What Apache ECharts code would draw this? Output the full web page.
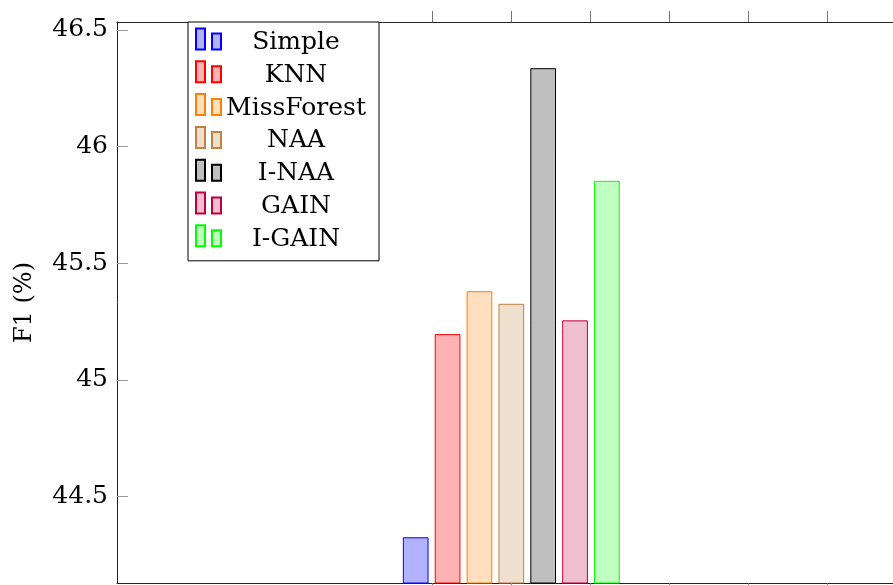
<!DOCTYPE html>
<html><head><meta charset="utf-8">
<script src="https://cdn.jsdelivr.net/npm/echarts@6/dist/echarts.min.js"></script>
<style>html,body{margin:0;padding:0;background:#fff}#c{width:893px;height:585px}</style>
</head><body><div id="c"></div>
<script>
const methods = ['Simple', 'KNN', 'MissForest', 'NAA', 'I-NAA', 'GAIN', 'I-GAIN'];
const f1Values = [44.325, 45.196, 45.380, 45.326, 46.336, 45.255, 45.853];
const groupX = 5;
const yTickValues = [44.5, 45, 45.5, 46, 46.5];
const xTickValues = [4, 5, 6, 7, 8, 9];
const fillColors = ['rgb(178,178,255)', 'rgb(255,178,178)', 'rgb(255,223,191)', 'rgb(239,223,207)', 'rgb(191,191,191)', 'rgb(239,191,207)', 'rgb(191,255,191)'];
const strokeColors = ['rgb(0,0,255)', 'rgb(255,0,0)', 'rgb(255,128,0)', 'rgb(191,128,64)', 'rgb(0,0,0)', 'rgb(191,0,64)', 'rgb(0,255,0)'];

const FONT = 'DejaVu Serif';
const chart = echarts.init(document.getElementById('c'), null, {renderer: 'canvas'});

const series = methods.map((m, i) => ({
  name: m,
  type: 'bar',
  xAxisIndex: 0,
  yAxisIndex: 0,
  clip: true,
  barWidth: 25.7,
  barGap: '24%',
  data: [[groupX, f1Values[i]]],
  itemStyle: {color: fillColors[i], borderColor: strokeColors[i], borderWidth: 1},
  emphasis: {disabled: true}
}));

const axisLineStyle = {color: '#222', width: 1};

chart.setOption({
  animation: false,
  backgroundColor: '#fff',
  grid: {left: 117, top: 22, right: 0, bottom: 2, containLabel: false},
  legend: {
    orient: 'vertical',
    left: 188,
    top: 22,
    data: methods,
    icon: 'path://M0,0h9v21h-9z M16,5h9v16h-9z',
    itemWidth: 25,
    itemHeight: 21,
    itemGap: 0.8,
    padding: [1, 13, 9, 7],
    borderColor: '#000',
    borderWidth: 1,
    backgroundColor: '#fff',
    selectedMode: false,
    formatter: n => '{t|' + n + '}',
    textStyle: {
      rich: {t: {width: 140, align: 'center', fontFamily: FONT, fontSize: 25, color: '#000', lineHeight: 24, padding: [7, 0, 0, 0]}}
    }
  },
  xAxis: [
    {
      type: 'value', position: 'bottom', min: 0, max: 9.84,
      axisLine: {show: true, lineStyle: axisLineStyle},
      axisTick: {show: true, inside: false, length: 11, customValues: xTickValues, lineStyle: {color: '#777', width: 1}},
      axisLabel: {show: false},
      splitLine: {show: false}
    },
    {
      type: 'value', position: 'top', min: 0, max: 9.84,
      axisLine: {show: true, lineStyle: axisLineStyle},
      axisTick: {show: true, inside: false, length: 11, customValues: xTickValues, lineStyle: {color: '#777', width: 1}},
      axisLabel: {show: false},
      splitLine: {show: false}
    }
  ],
  yAxis: {
    type: 'value', min: 44.129, max: 46.534,
    name: 'F1 (%)', nameLocation: 'middle', nameGap: 80, nameRotate: 90,
    nameTextStyle: {fontFamily: FONT, fontSize: 24, color: '#000'},
    axisLine: {show: true, lineStyle: axisLineStyle},
    axisTick: {show: true, inside: true, length: 11, customValues: yTickValues, lineStyle: {color: '#999', width: 1}},
    axisLabel: {show: true, margin: 9, customValues: yTickValues, fontFamily: FONT, fontSize: 25, color: '#000', formatter: v => String(v)},
    splitLine: {show: false}
  },
  series: series
});
</script>
</body></html>
